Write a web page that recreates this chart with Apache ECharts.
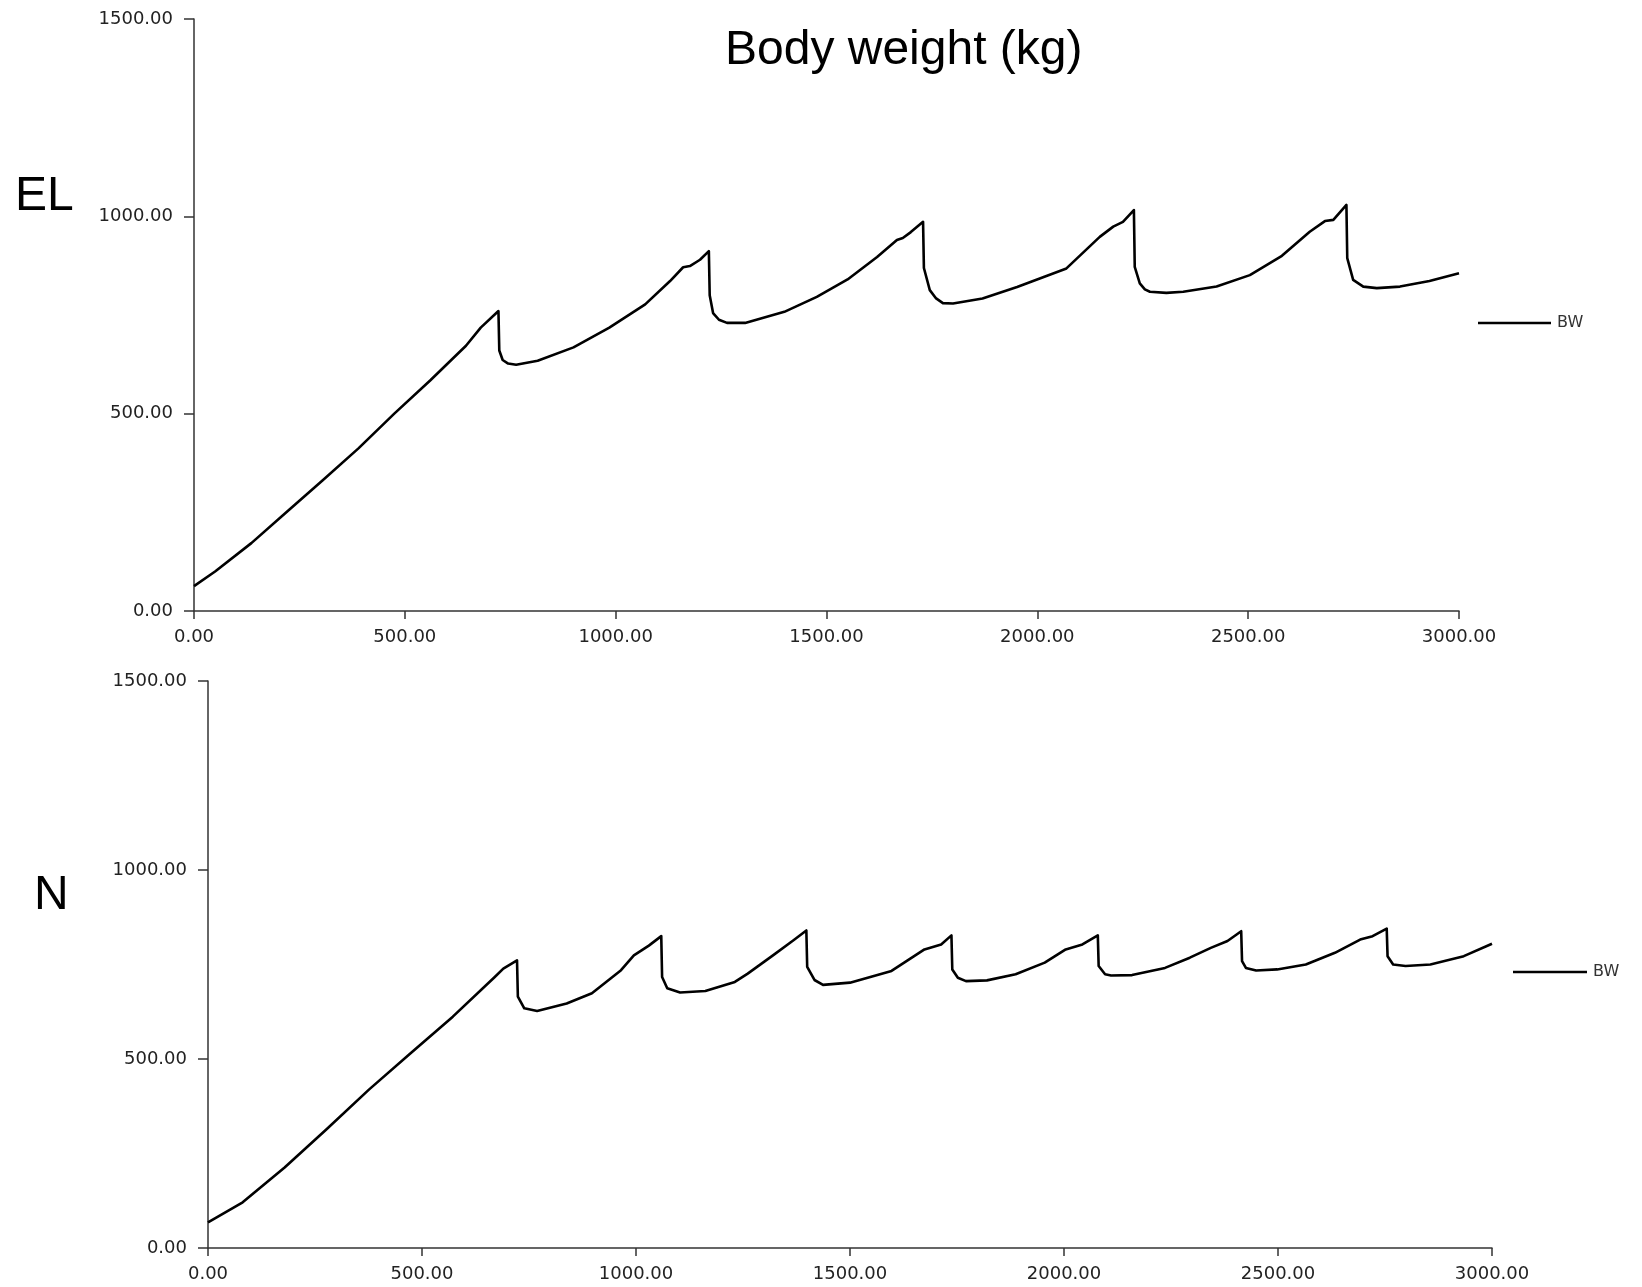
<!DOCTYPE html>
<html>
<head>
<meta charset="utf-8">
<title>Body weight (kg)</title>
<script src="https://cdn.jsdelivr.net/npm/echarts@6/dist/echarts.min.js"></script>
<style>
  html, body { margin: 0; padding: 0; background: #fff; }
  #main { width: 1642px; height: 1287px; }
</style>
</head>
<body>
<div id="main"></div>
<script>
  // x ticks / y ticks shared by both panels
  var xTicks = [0, 500, 1000, 1500, 2000, 2500, 3000];
  var yTicks = [0, 500, 1000, 1500];

  // EL panel (top)
  var elDays = [0, 50, 136, 221, 306, 390, 475, 560, 645, 680, 722, 724, 732, 745, 764, 815, 900, 985, 1070, 1129, 1160, 1176, 1200, 1221,
    1223, 1231, 1245, 1264, 1307, 1400, 1477, 1550, 1620, 1667, 1681, 1700, 1729,
    1731, 1745, 1760, 1776, 1800, 1870, 1952, 2069, 2148, 2180, 2203, 2229,
    2231, 2243, 2255, 2267, 2306, 2346, 2425, 2504, 2580, 2646, 2682, 2702, 2733,
    2735, 2749, 2773, 2805, 2860, 2930, 3000];
  var elBW = [63, 100, 172, 252, 332, 412, 500, 584, 672, 718, 760, 660, 636, 627, 624, 634, 668, 718, 777, 836, 871, 874, 890, 912,
    800, 755, 738, 730, 730, 758, 796, 840, 897, 940, 945, 960, 986,
    869, 813, 792, 780, 779, 792, 821, 868, 948, 974, 986, 1016,
    872, 830, 815, 809, 806, 809, 822, 851, 900, 961, 988, 991, 1029,
    894, 839, 822, 818, 822, 836, 856];

  // N panel (bottom)
  var nDays = [0, 81, 179, 277, 376, 474, 572, 670, 690, 722, 724, 739, 769, 838, 897, 965, 995, 1030, 1059,
    1061, 1073, 1103, 1162, 1231, 1261, 1320, 1368, 1398,
    1400, 1417, 1437, 1500, 1597, 1674, 1713, 1737,
    1739, 1752, 1771, 1820, 1887, 1955, 2004, 2043, 2079,
    2081, 2096, 2110, 2159, 2236, 2294, 2343, 2382, 2414,
    2416, 2425, 2449, 2498, 2565, 2633, 2692, 2721, 2754,
    2756, 2769, 2798, 2856, 2934, 3000];
  var nBW = [68, 121, 213, 314, 419, 516, 612, 717, 739, 761, 665, 634, 627, 647, 674, 735, 774, 800, 825,
    717, 687, 676, 680, 704, 726, 774, 814, 840,
    744, 709, 696, 702, 733, 790, 803, 827,
    737, 715, 706, 708, 724, 755, 790, 803, 827,
    746, 724, 721, 722, 741, 768, 794, 812, 838,
    759, 741, 734, 737, 750, 781, 816, 825, 845,
    772, 750, 746, 750, 772, 805];

  function zip(xs, ys) {
    return xs.map(function (x, i) { return [x, ys[i]]; });
  }

  var axisColor = '#333';
  var labelStyle = { color: '#222', fontFamily: 'DejaVu Sans', fontSize: 18 };
  var bigText = { fontFamily: 'Liberation Sans', fontSize: 48, fontWeight: 'normal', color: '#000' };

  function xAxis(gi) {
    return {
      type: 'value', gridIndex: gi, min: xTicks[0], max: xTicks[xTicks.length - 1], interval: 500,
      axisLine: { show: true, onZero: false, lineStyle: { color: axisColor, width: 1.5 } },
      axisTick: { show: true, length: 8, lineStyle: { color: axisColor, width: 1.5 } },
      splitLine: { show: false },
      axisLabel: Object.assign({ margin: 17, formatter: function (v) { return v.toFixed(2); } }, labelStyle)
    };
  }
  function yAxis(gi) {
    return {
      type: 'value', gridIndex: gi, min: yTicks[0], max: yTicks[yTicks.length - 1], interval: 500,
      axisLine: { show: true, onZero: false, lineStyle: { color: axisColor, width: 1.5 } },
      axisTick: { show: true, length: 10, lineStyle: { color: axisColor, width: 1.5 } },
      splitLine: { show: false },
      axisLabel: Object.assign({ margin: 21, formatter: function (v) { return v.toFixed(2); } }, labelStyle)
    };
  }
  function bwLine(gi, data) {
    return {
      name: 'BW', type: 'line', xAxisIndex: gi, yAxisIndex: gi, data: data,
      symbol: 'none', smooth: false,
      lineStyle: { color: '#000', width: 2.6, join: 'round' }, itemStyle: { color: '#000' }
    };
  }

  var chart = echarts.init(document.getElementById('main'));
  chart.setOption({
    animation: false,
    backgroundColor: '#fff',
    title: [
      { text: 'Body weight (kg)', left: 720, top: 22, textStyle: bigText },
      { text: 'EL', left: 10, top: 168, textStyle: bigText },
      { text: 'N', left: 29, top: 867, textStyle: bigText }
    ],
    legend: [
      { data: ['BW'], left: 1478, top: 315, padding: 0, icon: 'rect', itemWidth: 73, itemHeight: 2.5, itemGap: 0,
        textStyle: { color: '#333', fontFamily: 'DejaVu Sans', fontSize: 16, padding: [0, 0, 0, 1] } },
      { data: ['BW'], left: 1513, top: 964, padding: 0, icon: 'rect', itemWidth: 74, itemHeight: 2.5, itemGap: 0,
        textStyle: { color: '#333', fontFamily: 'DejaVu Sans', fontSize: 16, padding: [0, 0, 0, 1] } }
    ],
    grid: [
      { left: 194, top: 19, width: 1265, height: 592 },
      { left: 208, top: 681, width: 1284, height: 567 }
    ],
    xAxis: [xAxis(0), xAxis(1)],
    yAxis: [yAxis(0), yAxis(1)],
    series: [
      bwLine(0, zip(elDays, elBW)),
      bwLine(1, zip(nDays, nBW))
    ]
  });
</script>
</body>
</html>
